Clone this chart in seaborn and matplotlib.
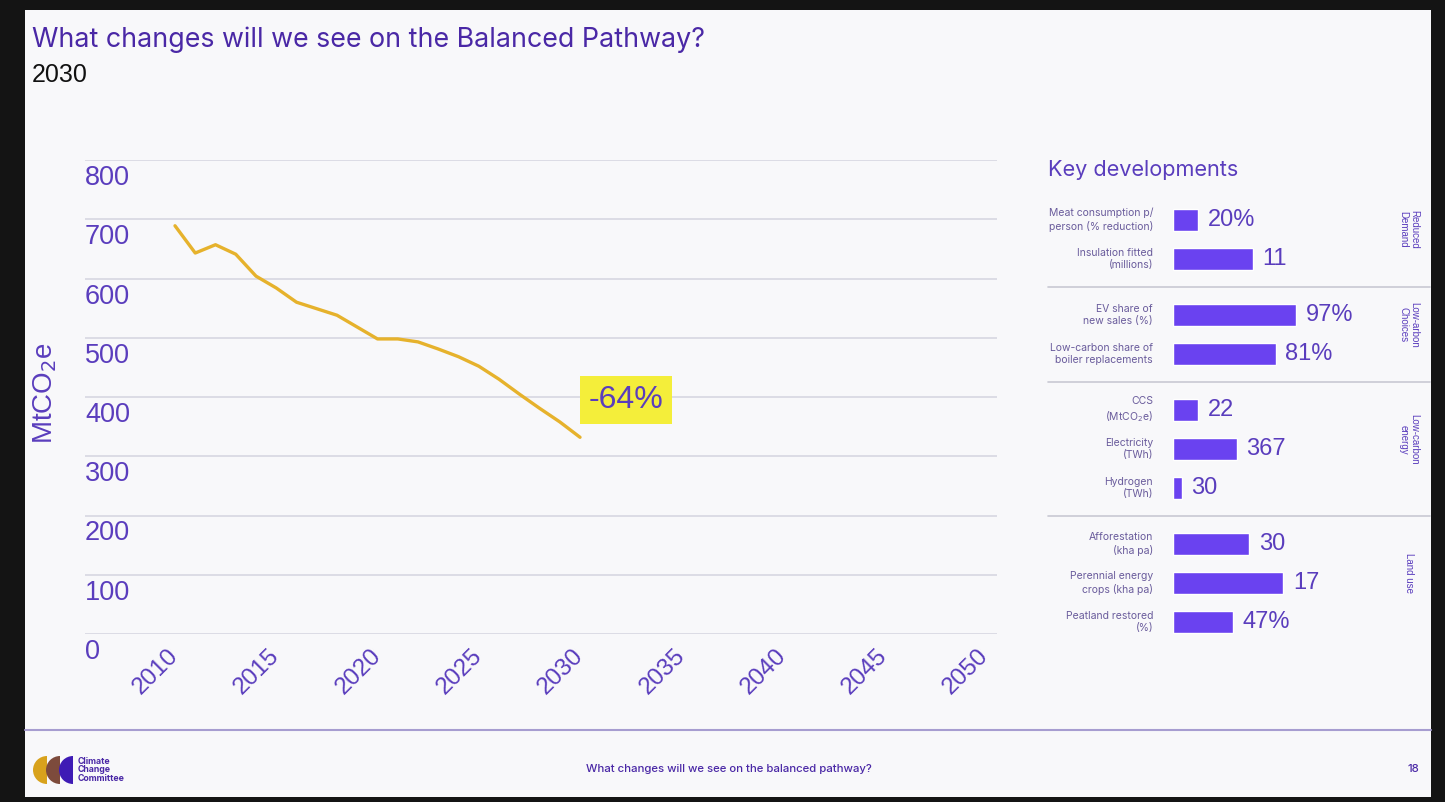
import numpy as np
import seaborn as sns
import matplotlib.pyplot as plt
from matplotlib.patches import Rectangle, Wedge
from matplotlib.transforms import ScaledTranslation, blended_transform_factory, IdentityTransform

# data
years = list(range(2010, 2031))
emissions = [689, 643, 657, 641, 604, 584, 560, 549, 538, 518, 498,
             498, 493, 481, 468, 452, 430, 405, 381, 358, 332]
y_ticks = [0, 100, 200, 300, 400, 500, 600, 700, 800]
x_ticks = [2010, 2015, 2020, 2025, 2030, 2035, 2040, 2045, 2050]
reduction_label = "-64%"

dev_labels = ["Meat consumption p/\nperson (% reduction)", "Insulation fitted\n(millions)",
              "EV share of\nnew sales (%)", "Low-carbon share of\nboiler replacements",
              "CCS\n(MtCO$_2$e)", "Electricity\n(TWh)", "Hydrogen\n(TWh)",
              "Afforestation\n(kha pa)", "Perennial energy\ncrops (kha pa)", "Peatland restored\n(%)"]
dev_values = ["20%", "11", "97%", "81%", "22", "367", "30", "30", "17", "47%"]
dev_bars = [20, 63, 97, 81, 20, 50, 7, 60, 87, 47]
dev_groups = [0, 0, 1, 1, 2, 2, 2, 3, 3, 3]
group_names = ["Reduced\nDemand", "Low-arbon\nChoices", "Low-carbon\nenergy", "Land use"]

W, H = 1445, 802
purple = "#5a3dbd"
title_purple = "#4a28a6"
bar_color = "#6a42f0"
gold = "#e6b22c"
num_font = ["Liberation Sans", "DejaVu Sans"]

sns.set_theme(style="white")
plt.rcParams["font.family"] = ["Inter", "DejaVu Sans"]


def fx(x):
    return x / W


def fy(y):
    return 1 - y / H


fig = plt.figure(figsize=(W / 100, H / 100), dpi=100, facecolor="#141414")
fig.patches.append(Rectangle((fx(25), fy(797)), fx(1431) - fx(25), fy(10) - fy(797),
                             transform=fig.transFigure, facecolor="#f8f8fa", edgecolor="none",
                             zorder=-5))

# titles
fig.text(fx(32), fy(40), "What changes will we see on the Balanced Pathway?", color=title_purple,
         fontsize=19.3, va="center", ha="left")
fig.text(fx(32), fy(75), "2030", color="#111111", fontsize=18, va="center", ha="left",
         family=num_font)

# main line chart
ax = fig.add_axes([fx(85), fy(634), fx(997) - fx(85), fy(160) - fy(634)])
ax.set_facecolor("none")
sns.lineplot(x=years, y=emissions, ax=ax, color=gold, lw=2.4)
ax.set_xlim(2005.556, 2050.59)
ax.set_ylim(0, 800)
ax.set_yticks(y_ticks)
ax.set_yticklabels([])
ax.set_xticks(x_ticks)
ax.set_xticklabels([str(t) for t in x_ticks], rotation=45, ha="right", va="center",
                   rotation_mode="anchor", color=purple, fontsize=17.5, family=num_font)
ax.tick_params(axis="both", length=0)
ax.tick_params(axis="x", pad=13)
ax.grid(axis="y", color="#d9d9e3", lw=1.3)
ax.grid(axis="x", visible=False)
for s in ax.spines.values():
    s.set_visible(False)
ax.set_xlabel("")
ax.set_ylabel("")

ytrans = blended_transform_factory(ax.transAxes, ax.transData) + \
    ScaledTranslation(0, -0.18, fig.dpi_scale_trans)
for v in y_ticks:
    ax.text(0, v, str(v), transform=ytrans, ha="left", va="center", color=purple,
            fontsize=19.5, family=num_font)

ax.annotate(reduction_label, xy=(years[-1], emissions[-1]), xytext=(33, 27),
            textcoords="offset points", ha="center", va="center", fontsize=23, color=purple,
            family=num_font,
            bbox=dict(boxstyle="square,pad=0.28", facecolor="#f4ee3a", edgecolor="none"))

fig.text(fx(45), fy(393), "MtCO$_2$e", rotation=90, ha="center", va="center", color=purple,
         fontsize=20, family=num_font)

# key developments
fig.text(fx(1048), fy(170), "Key developments", color=purple, fontsize=15.6, ha="left", va="center")

gap = 0.45
dev_pos = [i + gap * g for i, g in enumerate(dev_groups)]
bx = fig.add_axes([fx(1173), fy(649.2), fx(1300) - fx(1173), fy(192.8) - fy(649.2)])
bx.set_facecolor("none")
sns.barplot(x=dev_bars, y=dev_pos, orient="h", native_scale=True, width=0.57,
            color=bar_color, saturation=1, ax=bx)
bx.set_xlim(0, 100)
bx.set_ylim(11.05, -0.7)
bx.axis("off")

for lab, val, b, p in zip(dev_labels, dev_values, dev_bars, dev_pos):
    bx.text(-15.7, p, lab, ha="right", va="center", fontsize=7.5, color="#6a5c9c",
            multialignment="right", linespacing=1.3)
    bx.text(b + 7.5, p, val, ha="left", va="center", fontsize=17, color=purple,
            family=num_font)

for g in range(1, len(group_names)):
    last = max(p for p, gg in zip(dev_pos, dev_groups) if gg == g - 1)
    first = min(p for p, gg in zip(dev_pos, dev_groups) if gg == g)
    bx.axhline((last + first) / 2, xmin=-0.984, xmax=2.02, color="#c9c9d3", lw=1.2, clip_on=False)

for g, name in enumerate(group_names):
    ps = [p for p, gg in zip(dev_pos, dev_groups) if gg == g]
    bx.text(185.5, (min(ps) + max(ps)) / 2 - 0.25, name, rotation=-90, ha="center", va="center",
            fontsize=7, color=purple, linespacing=1.05, family=num_font)

# footer
fig.add_artist(plt.Line2D([fx(25), fx(1431)], [fy(730), fy(730)], transform=fig.transFigure,
                          color="#a79dd0", lw=1.5))
fig.text(fx(729), fy(769), "What changes will we see on the balanced pathway?", color=title_purple,
         fontsize=8.2, ha="center", va="center", weight="medium")
fig.text(fx(1413), fy(769), "18", color=title_purple, fontsize=8.2, ha="center", va="center",
         weight="medium")
for cx, col in zip([47, 60, 73], ["#d8a21c", "#7d4b3c", "#3e1bb5"]):
    fig.patches.append(Wedge((cx, H - 770), 14, 90, 270, transform=IdentityTransform(),
                             facecolor=col, edgecolor="none"))
fig.text(fx(78), fy(770), "Climate\nChange\nCommittee", color=title_purple, fontsize=6.3,
         weight="bold", ha="left", va="center", linespacing=0.9)

fig.savefig("out.png", dpi=100, facecolor=fig.get_facecolor())
